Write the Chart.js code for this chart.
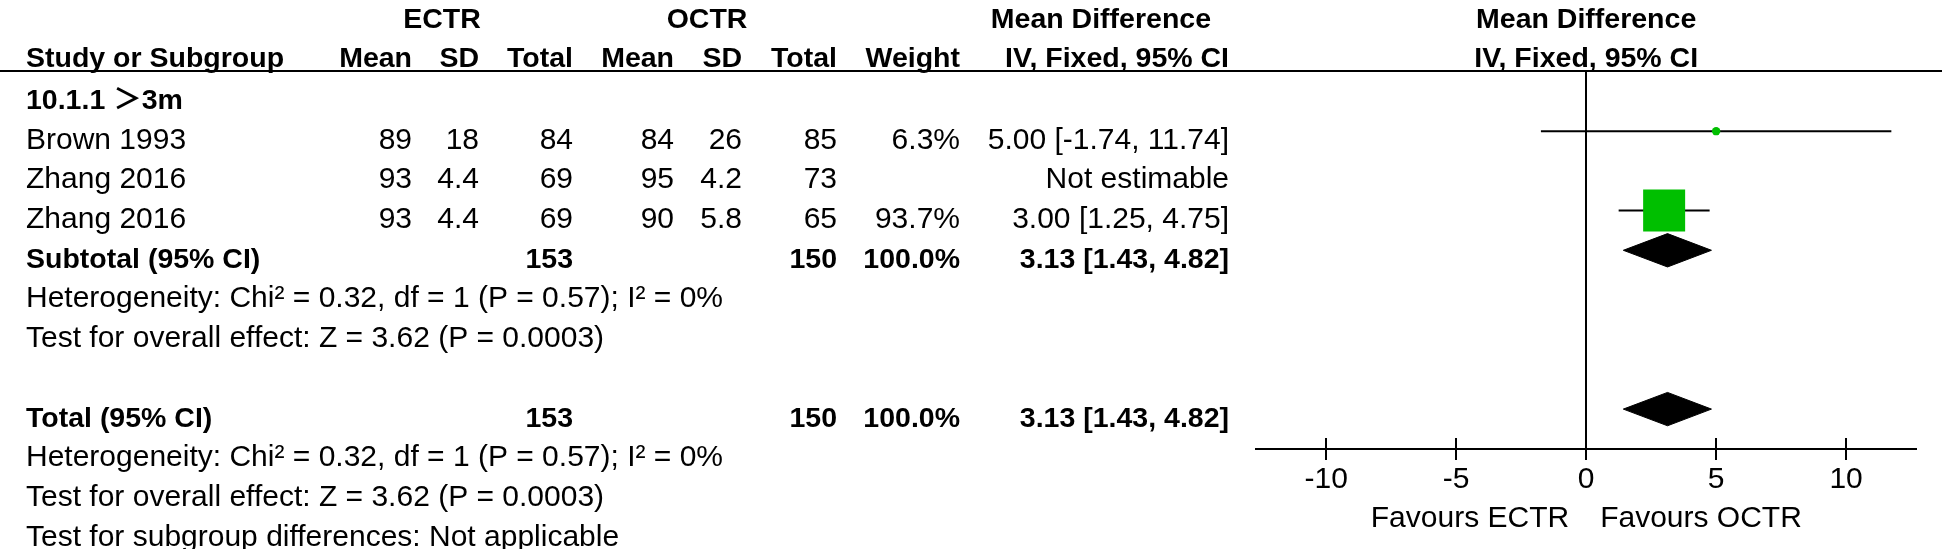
<!DOCTYPE html>
<html>
<head>
<meta charset="utf-8">
<title>ECTR vs OCTR forest plot</title>
<script src="https://cdn.jsdelivr.net/npm/chart.js@4.4.1/dist/chart.umd.min.js"></script>
<style>
	html, body { margin: 0; padding: 0; background: #fff; }
	#wrap { width: 1946px; height: 549px; }
</style>
</head>
<body>
<div id="wrap"><canvas id="myChart" width="1946" height="549"></canvas></div>
<script>
// study level data
var studies = ["Brown 1993", "Zhang 2016", "Zhang 2016"];
var ectrMean = [89, 93, 93];
var ectrSD = [18, 4.4, 4.4];
var ectrTotal = [84, 69, 69];
var octrMean = [84, 95, 90];
var octrSD = [26, 4.2, 5.8];
var octrTotal = [85, 73, 65];
var weights = [6.3, null, 93.7];
var md = [5.00, null, 3.00];
var mdLow = [-1.74, null, 1.25];
var mdHigh = [11.74, null, 4.75];

// pooled results (subtotal and total are the same here)
var subgroupName = "10.1.1 \uFF1E3m";
var pooledMd = [3.13, 3.13];
var pooledLow = [1.43, 1.43];
var pooledHigh = [4.82, 4.82];
var pooledEctr = [153, 153];
var pooledOctr = [150, 150];
var pooledWeight = [100.0, 100.0];
var heterogeneity = "Heterogeneity: Chi\u00B2 = 0.32, df = 1 (P = 0.57); I\u00B2 = 0%";
var overallEffect = "Test for overall effect: Z = 3.62 (P = 0.0003)";
var subgroupTest = "Test for subgroup differences: Not applicable";

var xTicks = [-10, -5, 0, 5, 10];

// row index of each line of the table
var studyRows = [1, 2, 3];
var pooledRows = [4, 8];

var FONT = "'Liberation Sans', Arial, 'Noto Sans CJK SC', sans-serif";
var GREEN = "#00bf00";

Chart.defaults.font.family = FONT;
Chart.defaults.color = "#000";

function fmtCI(m, lo, hi) {
	return m.toFixed(2) + " [" + lo.toFixed(2) + ", " + hi.toFixed(2) + "]";
}

// marker side grows with study weight
function markerSide(w) {
	return 42 * Math.pow(w / 93.7, 0.6);
}

var datasets = [];

// squares, drawn on top
var squares = [];
for (var i = 0; i < studies.length; i++) {
	if (md[i] !== null) {
		squares.push({ x: md[i], y: studyRows[i], w: weights[i] });
	}
}
datasets.push({
	data: squares,
	backgroundColor: GREEN,
	borderWidth: 0,
	pointStyle: function(c) {
		return c.raw && c.raw.w < 20 ? "circle" : "rect";
	},
	pointRadius: function(c) {
		var p = c.raw;
		if (!p) return 0;
		var s = markerSide(p.w);
		return p.w < 20 ? s / 2 : s / Math.SQRT2;
	},
	pointHoverRadius: 0
});

// confidence interval lines
for (var i = 0; i < studies.length; i++) {
	if (md[i] === null) continue;
	datasets.push({
		data: [{ x: mdLow[i], y: studyRows[i] }, { x: mdHigh[i], y: studyRows[i] }],
		showLine: true,
		borderColor: "#000",
		borderWidth: 2,
		pointRadius: 0
	});
}

// diamonds for subtotal and total
for (var j = 0; j < pooledRows.length; j++) {
	var r = pooledRows[j];
	datasets.push({
		data: [
			{ x: pooledLow[j], y: r },
			{ x: pooledMd[j], y: r - 0.42 },
			{ x: pooledHigh[j], y: r },
			{ x: pooledMd[j], y: r + 0.42 },
			{ x: pooledLow[j], y: r }
		],
		showLine: true,
		fill: "shape",
		tension: 0,
		borderColor: "#000",
		borderWidth: 1,
		backgroundColor: "#000",
		pointRadius: 0
	});
}

var tablePlugin = {
	id: "forestTable",
	afterDraw: function(chart) {
		var ctx = chart.ctx;
		var ys = chart.scales.y;
		var xs = chart.scales.x;
		var area = chart.chartArea;
		var zero = xs.getPixelForValue(0);

		function put(s, px, py, align, bold) {
			ctx.font = (bold ? "bold 28.5px " : "30px ") + FONT;
			ctx.textAlign = align;
			ctx.textBaseline = "alphabetic";
			ctx.fillStyle = "#000";
			ctx.fillText(s, px, py);
		}
		function txt(s, px, row, align, bold) {
			put(s, px, ys.getPixelForValue(row) + 17.5, align, bold);
		}

		ctx.save();

		// header line
		ctx.strokeStyle = "#000";
		ctx.lineWidth = 2;
		ctx.beginPath();
		ctx.moveTo(0, area.top);
		ctx.lineTo(1942, area.top);
		ctx.stroke();

		// upper half of the axis ticks
		ctx.beginPath();
		for (var k = 0; k < xTicks.length; k++) {
			var tx = Math.round(xs.getPixelForValue(xTicks[k]));
			ctx.moveTo(tx, area.bottom);
			ctx.lineTo(tx, area.bottom - 11);
		}
		ctx.stroke();

		// headers
		var h1 = 28, h2 = 66.5;
		put("ECTR", 442, h1, "center", true);
		put("OCTR", 707, h1, "center", true);
		put("Mean Difference", 1211, h1, "right", true);
		put("Mean Difference", zero, h1, "center", true);
		put("Study or Subgroup", 26, h2, "left", true);
		put("Mean", 412, h2, "right", true);
		put("SD", 479, h2, "right", true);
		put("Total", 573, h2, "right", true);
		put("Mean", 674, h2, "right", true);
		put("SD", 742, h2, "right", true);
		put("Total", 837, h2, "right", true);
		put("Weight", 960, h2, "right", true);
		put("IV, Fixed, 95% CI", 1229, h2, "right", true);
		put("IV, Fixed, 95% CI", zero, h2, "center", true);

		txt(subgroupName, 26, 0, "left", true);

		for (var i = 0; i < studies.length; i++) {
			var r = studyRows[i];
			txt(studies[i], 26, r, "left");
			txt(String(ectrMean[i]), 412, r, "right");
			txt(String(ectrSD[i]), 479, r, "right");
			txt(String(ectrTotal[i]), 573, r, "right");
			txt(String(octrMean[i]), 674, r, "right");
			txt(String(octrSD[i]), 742, r, "right");
			txt(String(octrTotal[i]), 837, r, "right");
			if (weights[i] !== null) txt(weights[i].toFixed(1) + "%", 960, r, "right");
			txt(md[i] === null ? "Not estimable" : fmtCI(md[i], mdLow[i], mdHigh[i]), 1229, r, "right");
		}

		var labels = ["Subtotal (95% CI)", "Total (95% CI)"];
		for (var j = 0; j < pooledRows.length; j++) {
			var pr = pooledRows[j];
			txt(labels[j], 26, pr, "left", true);
			txt(String(pooledEctr[j]), 573, pr, "right", true);
			txt(String(pooledOctr[j]), 837, pr, "right", true);
			txt(pooledWeight[j].toFixed(1) + "%", 960, pr, "right", true);
			txt(fmtCI(pooledMd[j], pooledLow[j], pooledHigh[j]), 1229, pr, "right", true);
			txt(heterogeneity, 26, pr + 1, "left");
			txt(overallEffect, 26, pr + 2, "left");
		}
		txt(subgroupTest, 26, 11, "left");

		// favours labels
		put("Favours ECTR", zero - 17, 526.5, "right");
		put("Favours OCTR", zero + 14, 526.5, "left");

		ctx.restore();
	}
};

var ctx = document.getElementById("myChart");

var myChart = new Chart(ctx, {
	type: "scatter",
	data: { datasets: datasets },
	options: {
		responsive: false,
		animation: false,
		events: [],
		layout: { padding: { left: 1256, right: 28, top: 71, bottom: 0 } },
		plugins: {
			legend: { display: false },
			tooltip: { enabled: false }
		},
		scales: {
			x: {
				type: "linear",
				min: -12.7,
				max: 12.7,
				afterBuildTicks: function(scale) {
					scale.ticks = xTicks.map(function(v) { return { value: v }; });
				},
				afterFit: function(scale) {
					scale.height = 100;
				},
				grid: {
					drawOnChartArea: true,
					color: function(c) {
						return c.tick && c.tick.value === 0 ? "#000" : "rgba(0,0,0,0)";
					},
					lineWidth: 2,
					tickColor: "#000",
					tickLength: 11,
					tickWidth: 2
				},
				border: { display: true, color: "#000", width: 2 },
				ticks: {
					color: "#000",
					padding: 2,
					maxRotation: 0,
					font: { size: 30 }
				}
			},
			y: {
				type: "linear",
				display: false,
				reverse: true,
				min: -0.516,
				max: 9.005
			}
		}
	},
	plugins: [tablePlugin]
});
</script>
</body>
</html>
